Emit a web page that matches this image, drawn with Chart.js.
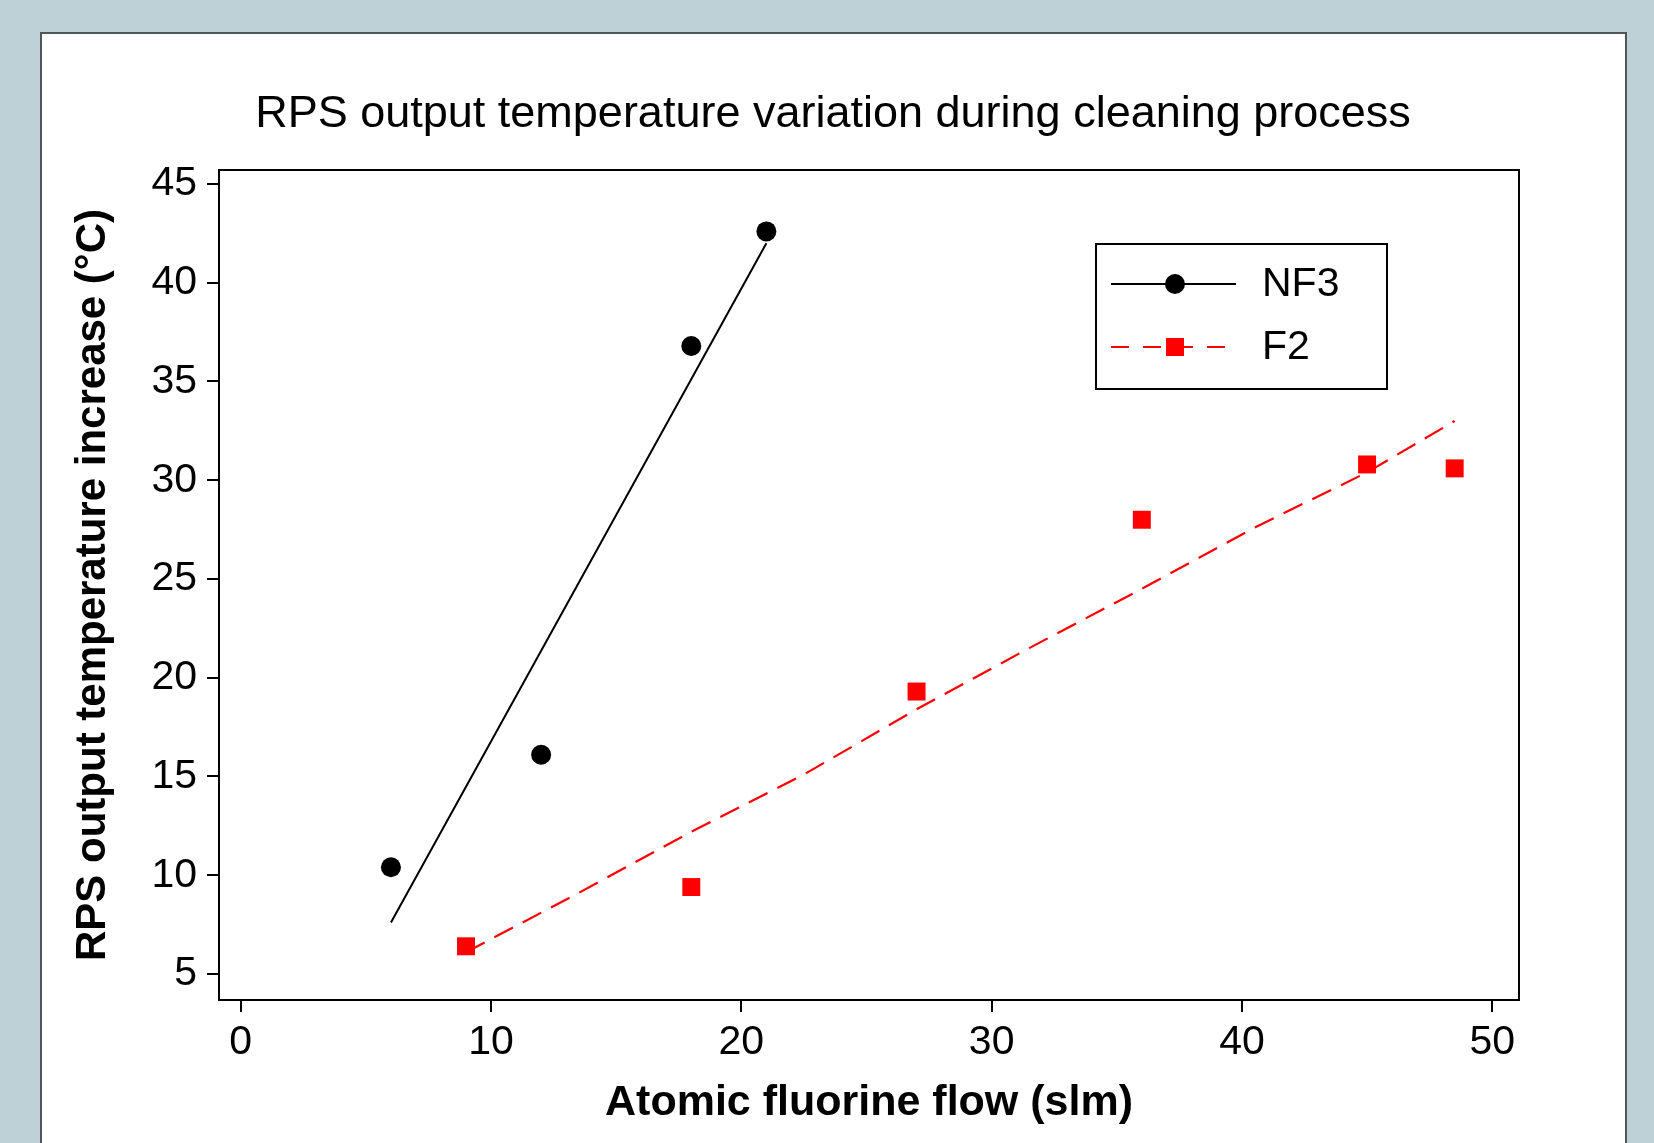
<!DOCTYPE html>
<html>
<head>
<meta charset="utf-8">
<script src="https://cdn.jsdelivr.net/npm/chart.js@4"></script>
<style>
  html, body { margin: 0; padding: 0; background: #bed1d7; }
  #chart { display: block; }
</style>
</head>
<body>
<canvas id="chart" width="1654" height="1143"></canvas>
<script>
// values
var chartTitle = "RPS output temperature variation during cleaning process";
var seriesNames = ["NF3", "F2"];

var nf3Flow = [6, 12, 18, 21];
var nf3Temp = [10.4, 16.1, 36.8, 42.6];
var nf3FitFlow = [6, 21];
var nf3FitTemp = [7.6, 42.0];

var f2Flow = [9, 18, 27, 36, 45, 48.5];
var f2Temp = [6.4, 9.4, 19.3, 28.0, 30.8, 30.6];
var f2FitFlow = [9, 13.5, 18, 22.5, 27, 31.5, 36, 40.5, 45, 48.5];
var f2FitTemp = [6.1, 9.1, 12.2, 15.1, 18.4, 21.5, 24.5, 27.6, 30.4, 33.0];

var xTicks = [0, 10, 20, 30, 40, 50];
var yTicks = [5, 10, 15, 20, 25, 30, 35, 40, 45];

var FONT = "'Liberation Sans', Arial, sans-serif";

function pts(xs, ys) {
  return xs.map(function (x, i) { return {x: x, y: ys[i]}; });
}

// white panel, plot frame and title
var panel = {
  id: "panel",
  beforeDraw: function (chart) {
    var ctx = chart.ctx;
    ctx.save();
    ctx.fillStyle = "#ffffff";
    ctx.fillRect(41, 33, 1585, 1130);
    ctx.strokeStyle = "#50555a";
    ctx.lineWidth = 2;
    ctx.strokeRect(41, 33, 1585, 1130);

    ctx.fillStyle = "#000";
    ctx.font = "45px " + FONT;
    ctx.textAlign = "center";
    ctx.textBaseline = "alphabetic";
    ctx.fillText(chartTitle, 833, 127);
    ctx.restore();
  },
  afterDatasetsDraw: function (chart) {
    var a = chart.chartArea, ctx = chart.ctx;
    ctx.save();
    ctx.strokeStyle = "#000";
    ctx.lineWidth = 2;
    ctx.strokeRect(a.left, a.top, a.right - a.left, a.bottom - a.top);
    ctx.restore();
  }
};

// boxed legend inside the plot, top right
var boxLegend = {
  id: "boxLegend",
  afterDraw: function (chart) {
    var a = chart.chartArea, ctx = chart.ctx;
    var bx = a.right - 423, by = a.top + 74, bw = 291, bh = 145;
    ctx.save();
    ctx.strokeStyle = "#000";
    ctx.lineWidth = 2;
    ctx.strokeRect(bx, by, bw, bh);
    ctx.font = "41px " + FONT;
    ctx.textBaseline = "middle";
    ctx.fillStyle = "#000";

    // NF3 row
    var y1 = by + 40;
    ctx.beginPath();
    ctx.moveTo(bx + 15, y1);
    ctx.lineTo(bx + 140, y1);
    ctx.strokeStyle = "#000";
    ctx.lineWidth = 2;
    ctx.stroke();
    ctx.beginPath();
    ctx.arc(bx + 79, y1, 10, 0, Math.PI * 2);
    ctx.fill();
    ctx.fillText(seriesNames[0], bx + 166, y1 + 1);

    // F2 row
    var y2 = by + 103;
    ctx.beginPath();
    ctx.setLineDash([18, 14]);
    ctx.moveTo(bx + 15, y2);
    ctx.lineTo(bx + 140, y2);
    ctx.strokeStyle = "#ff0000";
    ctx.stroke();
    ctx.setLineDash([]);
    ctx.fillStyle = "#ff0000";
    ctx.fillRect(bx + 70, y2 - 9, 18, 18);
    ctx.fillStyle = "#000";
    ctx.fillText(seriesNames[1], bx + 166, y2 + 1);
    ctx.restore();
  }
};

new Chart(document.getElementById("chart"), {
  type: "scatter",
  data: {
    datasets: [
      {
        label: seriesNames[0],
        data: pts(nf3Flow, nf3Temp),
        pointStyle: "circle",
        pointRadius: 10,
        pointBorderWidth: 0,
        backgroundColor: "#000",
        borderColor: "#000"
      },
      {
        label: seriesNames[1],
        data: pts(f2Flow, f2Temp),
        pointStyle: "rect",
        pointRadius: 12.7,
        pointBorderWidth: 0,
        backgroundColor: "#ff0000",
        borderColor: "#ff0000"
      },
      {
        label: seriesNames[0] + " fit",
        data: pts(nf3FitFlow, nf3FitTemp),
        showLine: true,
        pointRadius: 0,
        borderColor: "#000",
        borderWidth: 2
      },
      {
        label: seriesNames[1] + " fit",
        data: pts(f2FitFlow, f2FitTemp),
        showLine: true,
        pointRadius: 0,
        borderColor: "#ff0000",
        borderWidth: 2.2,
        borderDash: [21, 11]
      }
    ]
  },
  options: {
    responsive: false,
    animation: false,
    layout: { padding: { left: 0, right: 135, top: 170, bottom: 0 } },
    plugins: {
      legend: { display: false },
      tooltip: { enabled: false },
      title: { display: false }
    },
    scales: {
      x: {
        type: "linear",
        min: -0.87,
        max: 51.07,
        afterFit: function (s) { s.height = 143; },
        afterBuildTicks: function (s) { s.ticks = xTicks.map(function (v) { return {value: v}; }); },
        ticks: { color: "#000", padding: 6, font: { family: FONT, size: 41 } },
        grid: { display: true, drawOnChartArea: false, drawTicks: true, tickLength: 12, color: "#000", lineWidth: 2 },
        border: { display: true, color: "#000", width: 2 },
        title: {
          display: true,
          text: "Atomic fluorine flow (slm)",
          color: "#000",
          font: { family: FONT, size: 43, weight: "bold", lineHeight: 1.2 },
          padding: { top: 0, bottom: 14 }
        }
      },
      y: {
        type: "linear",
        min: 3.68,
        max: 45.71,
        afterFit: function (s) { s.width = 219; },
        afterBuildTicks: function (s) { s.ticks = yTicks.map(function (v) { return {value: v}; }); },
        ticks: { color: "#000", padding: 10, font: { family: FONT, size: 41 } },
        grid: { display: true, drawOnChartArea: false, drawTicks: true, tickLength: 12, color: "#000", lineWidth: 2 },
        border: { display: true, color: "#000", width: 2 },
        title: {
          display: true,
          text: "RPS output temperature increase (°C)",
          color: "#000",
          font: { family: FONT, size: 42, weight: "bold", lineHeight: 1.2 },
          padding: { top: 68, bottom: 0 }
        }
      }
    }
  },
  plugins: [panel, boxLegend]
});
</script>
</body>
</html>
